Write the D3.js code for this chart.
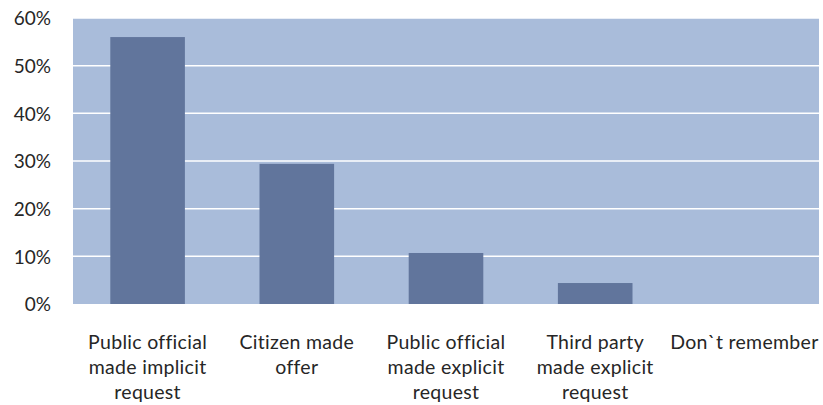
<!DOCTYPE html>
<html>
<head>
<meta charset="utf-8">
<script src="https://cdn.jsdelivr.net/npm/d3@7"></script>
<style>
  html, body { margin: 0; padding: 0; background: #fff; }
  svg text { font-family: Lato, "Open Sans", sans-serif; fill: #262626; }
</style>
</head>
<body>
<svg id="chart" width="823" height="405"></svg>
<script>
const categories = [
  ["Public official", "made implicit", "request"],
  ["Citizen made", "offer"],
  ["Public official", "made explicit", "request"],
  ["Third party", "made explicit", "request"],
  ["Don`t remember"]
];
const values = [0.56, 0.294, 0.107, 0.044, 0];
const yTicks = [0, 0.1, 0.2, 0.3, 0.4, 0.5, 0.6];

const svg = d3.select("#chart");
const plot = { left: 73, right: 819, top: 18, bottom: 304 };

const x = d3.scaleBand()
  .domain(d3.range(categories.length))
  .range([plot.left, plot.right])
  .paddingInner(0.5)
  .paddingOuter(0.25);

const y = d3.scaleLinear().domain([0, 0.6]).range([plot.bottom, plot.top]);

// plot background
svg.append("rect")
  .attr("x", plot.left).attr("y", plot.top)
  .attr("width", plot.right - plot.left).attr("height", plot.bottom - plot.top)
  .attr("fill", "#a9bcda");

// gridlines
svg.append("g").selectAll("line")
  .data(yTicks.filter(d => d > 0))
  .join("line")
  .attr("x1", plot.left).attr("x2", plot.right)
  .attr("y1", d => y(d)).attr("y2", d => y(d))
  .attr("stroke", "#ffffff").attr("stroke-width", 1.5);

// bars
svg.append("g").selectAll("rect")
  .data(values)
  .join("rect")
  .attr("x", (d, i) => x(i))
  .attr("width", x.bandwidth())
  .attr("y", d => y(d))
  .attr("height", d => y(0) - y(d))
  .attr("fill", "#61759c");

// y axis labels
const yAxis = d3.axisLeft(y).tickValues(yTicks).tickFormat(d3.format(".0%")).tickSize(0).tickPadding(22);
const yg = svg.append("g").attr("transform", `translate(${plot.left},0)`).call(yAxis);
yg.select(".domain").remove();
yg.selectAll("text")
  .style("font-size", "19px")
  .style("font-family", "Lato, 'Open Sans', sans-serif")
  .attr("fill", "#262626")
  .attr("dy", "0.36em");

// category labels
const lab = svg.append("g").selectAll("text")
  .data(categories)
  .join("text")
  .attr("text-anchor", "middle")
  .style("font-size", "19.5px")
  .style("letter-spacing", "0.3px")
  .attr("transform", (d, i) => `translate(${x(i) + x.bandwidth() / 2},0)`);
lab.selectAll("tspan")
  .data(d => d)
  .join("tspan")
  .attr("x", 0)
  .attr("y", (d, j) => 349 + j * 25)
  .text(d => d);
</script>
</body>
</html>
